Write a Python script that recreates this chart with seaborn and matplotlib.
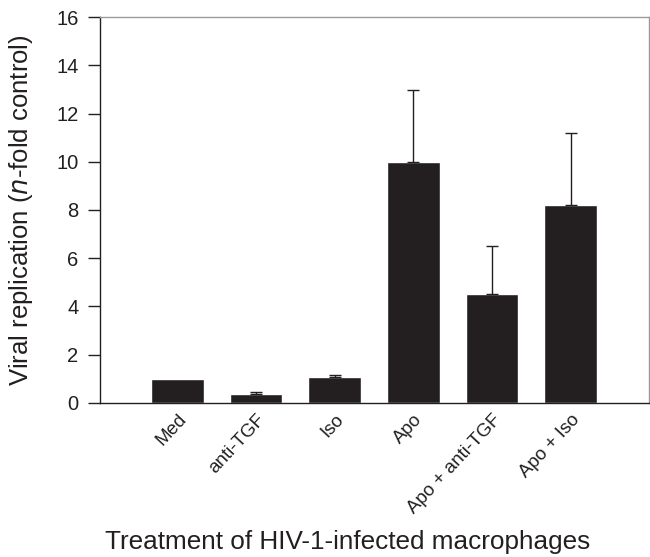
import pandas as pd
import matplotlib.pyplot as plt
import seaborn as sns

# Data
treatments = ['Med', 'anti-TGF', 'Iso', 'Apo', 'Apo + anti-TGF', 'Apo + Iso']
replication = [1.0, 0.37, 1.07, 10.0, 4.5, 8.2]
upper_err = [0.0, 0.06, 0.08, 3.0, 2.0, 3.0]

df = pd.DataFrame({'treatment': treatments, 'replication': replication,
                   'err': upper_err})
df['pos'] = range(len(df))

sns.set_style('white')
plt.rcParams['font.family'] = ['Liberation Sans', 'DejaVu Sans']

fig = plt.figure(figsize=(6.5, 5.57), dpi=100)
ax = fig.add_axes([0.154, 0.277, 0.844, 0.692])

sns.barplot(data=df, x='treatment', y='replication', color='#231f20',
            saturation=1, width=0.67, errorbar=None, ax=ax)

# upper-only error bars (none drawn where the error is zero)
has_err = df[df['err'] > 0]
ax.errorbar(has_err['pos'], has_err['replication'],
            yerr=[[0] * len(has_err), has_err['err']],
            fmt='none', ecolor='#231f20', elinewidth=1, capsize=4.5, capthick=1)

ax.set_xlim(-0.98, 5.99)
ax.set_ylim(0, 16)
ax.set_yticks(range(0, 17, 2))
ax.tick_params(axis='y', direction='out', length=8.5, width=1, left=True,
               labelsize=14.5, color='#231f20', labelcolor='#231f20', pad=7)
ax.tick_params(axis='x', length=0, labelsize=13.5, pad=6, labelcolor='#231f20')
ax.set_xticks(range(len(treatments)))
ax.set_xticklabels(treatments, rotation=47, ha='right', rotation_mode='anchor')

ax.set_ylabel('Viral replication ($\\it{n}$-fold control)', fontsize=18.5,
              color='#231f20')
ax.yaxis.set_label_coords(-0.118, 0.5)
ax.set_xlabel('Treatment of HIV-1-infected macrophages', fontsize=18.8,
              color='#231f20')
ax.xaxis.set_label_coords(0.452, -0.33)

for side in ['left', 'bottom']:
    ax.spines[side].set_color('#231f20')
    ax.spines[side].set_linewidth(1)
for side in ['top', 'right']:
    ax.spines[side].set_color('#9a9a9a')
    ax.spines[side].set_linewidth(1)

fig.savefig('out.png', dpi=100)
